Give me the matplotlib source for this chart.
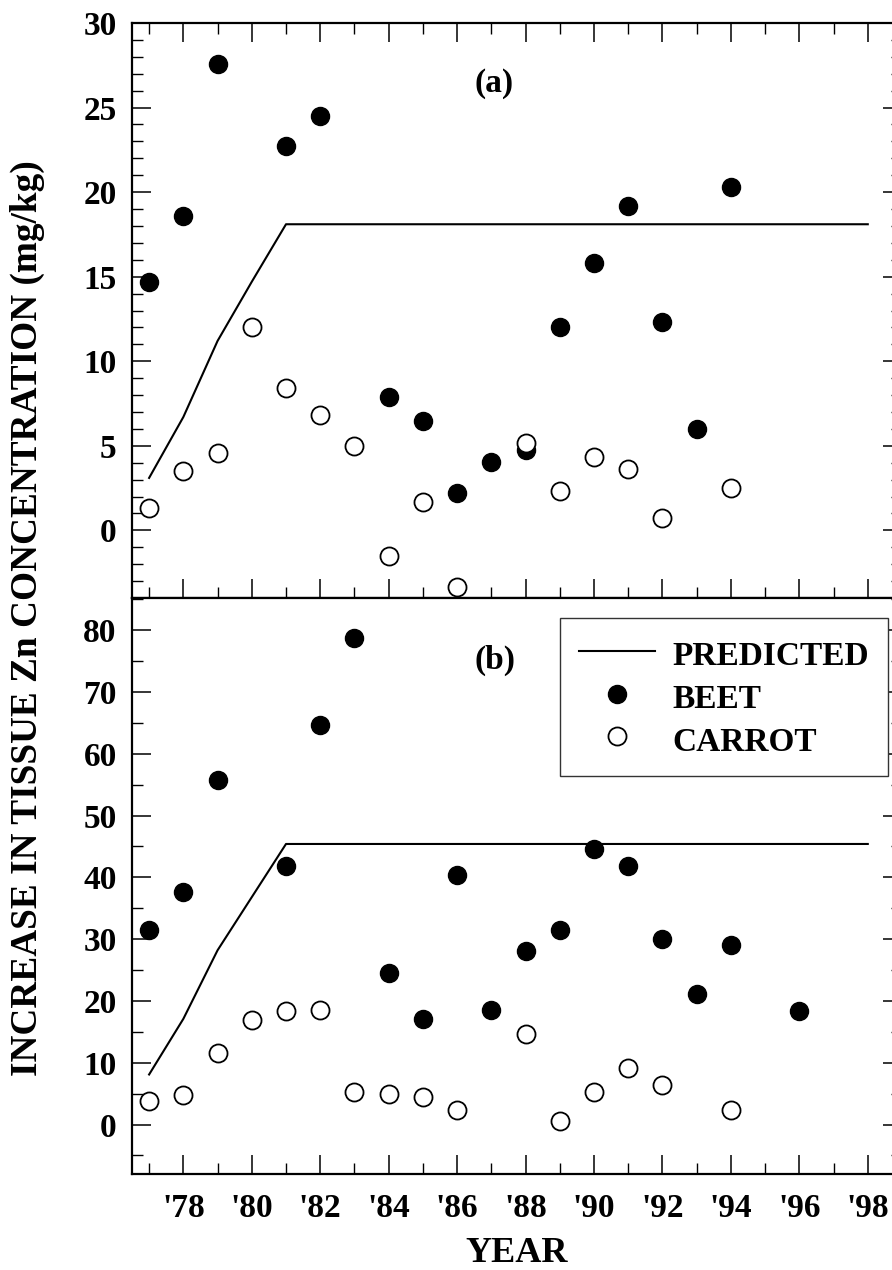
import numpy as np
import matplotlib
matplotlib.use("Agg")
import matplotlib.pyplot as plt
from matplotlib.ticker import MultipleLocator, FixedLocator

plt.rcParams['font.family'] = ['Liberation Serif', 'DejaVu Serif']
plt.rcParams['font.weight'] = 'bold'

# ---- data ----
pred_years = [1977, 1978, 1979, 1980, 1981, 1998]
pred_a = [3.1, 6.7, 11.2, 14.7, 18.1, 18.1]
pred_b = [8.1, 17.1, 28.2, 36.8, 45.4, 45.4]

beet_years_a = [1977, 1978, 1979, 1981, 1982, 1984, 1985, 1986, 1987, 1988,
                1989, 1990, 1991, 1992, 1993, 1994]
beet_a = [14.7, 18.6, 27.6, 22.7, 24.5, 7.9, 6.45, 2.2, 4.05, 4.75,
          12.05, 15.8, 19.2, 12.3, 6.0, 20.3]

carrot_years_a = [1977, 1978, 1979, 1980, 1981, 1982, 1983, 1984, 1985, 1986,
                  1988, 1989, 1990, 1991, 1992, 1994]
carrot_a = [1.3, 3.5, 4.6, 12.0, 8.4, 6.85, 5.0, -1.5, 1.7, -3.35,
            5.15, 2.35, 4.35, 3.65, 0.75, 2.5]

beet_years_b = [1977, 1978, 1979, 1981, 1982, 1983, 1984, 1985, 1986, 1987,
                1988, 1989, 1990, 1991, 1992, 1993, 1994, 1996]
beet_b = [31.4, 37.6, 55.7, 41.8, 64.7, 78.8, 24.6, 17.1, 40.3, 18.6,
          28.1, 31.5, 44.6, 41.9, 30.1, 21.1, 29.1, 18.3]

carrot_years_b = [1977, 1978, 1979, 1980, 1981, 1982, 1983, 1984, 1985, 1986,
                  1988, 1989, 1990, 1991, 1992, 1994]
carrot_b = [3.8, 4.8, 11.55, 16.95, 18.35, 18.6, 5.2, 5.0, 4.4, 2.3,
            14.7, 0.55, 5.2, 9.2, 6.35, 2.3]

year_ticks = list(range(1978, 1999, 2))
year_labels = ["'%02d" % (y % 100) for y in year_ticks]

W, H = 892, 1270
fig = plt.figure(figsize=(W / 100, H / 100), dpi=100)

def frac(x0, y0, x1, y1):
    return [x0 / W, 1 - y1 / H, (x1 - x0) / W, (y1 - y0) / H]

ax_a = fig.add_axes(frac(132, 23, 902, 598))
ax_b = fig.add_axes(frac(132, 598, 902, 1174))

tick_fs = 24
ms = 13

for ax in (ax_a, ax_b):
    for s in ax.spines.values():
        s.set_linewidth(1.6)
    ax.set_xlim(1976.5, 1999)
    ax.xaxis.set_major_locator(FixedLocator(year_ticks))
    ax.xaxis.set_minor_locator(MultipleLocator(1))
    ax.tick_params(which='major', direction='in', length=14, width=1.1,
                   labelsize=tick_fs, pad=11)
    ax.tick_params(which='minor', direction='in', length=8, width=1.0)
    ax.tick_params(axis='y', which='both', left=True, right=True)

# panel (a)
ax_a.plot(pred_years, pred_a, color='black', lw=1.5)
ax_a.plot(beet_years_a, beet_a, 'o', color='black', ms=ms)
ax_a.plot(carrot_years_a, carrot_a, 'o', mfc='white', mec='black', mew=1.3, ms=ms)
ax_a.set_ylim(-4, 30)
ax_a.yaxis.set_major_locator(MultipleLocator(5))
ax_a.yaxis.set_minor_locator(MultipleLocator(1))
ax_a.tick_params(axis='x', which='both', top=True, bottom=True, labelbottom=False)
ax_a.text(1987.07, 26.45, '(a)', fontsize=tick_fs, fontweight='bold',
          ha='center', va='center')

# panel (b)
l1, = ax_b.plot(pred_years, pred_b, color='black', lw=1.5, label='PREDICTED')
l2, = ax_b.plot(beet_years_b, beet_b, 'o', color='black', ms=ms, label='BEET')
l3, = ax_b.plot(carrot_years_b, carrot_b, 'o', mfc='white', mec='black', mew=1.3,
                ms=ms, label='CARROT')
ax_b.set_ylim(-8, 85.2)
ax_b.yaxis.set_major_locator(MultipleLocator(10))
ax_b.yaxis.set_minor_locator(MultipleLocator(5))
ax_b.tick_params(axis='x', which='both', top=False, bottom=True)
ax_b.set_xticklabels(year_labels)
ax_b.tick_params(axis='x', which='major', pad=14)
ax_b.text(1987.1, 75.1, '(b)', fontsize=tick_fs, fontweight='bold',
          ha='center', va='center')

leg = ax_b.legend(handles=[l1, l2, l3], loc='upper left',
                  bbox_to_anchor=(0.556, 0.965), fontsize=24, frameon=True,
                  fancybox=False, framealpha=1, edgecolor='#333333',
                  handlelength=2.28, handleheight=1.23, handletextpad=0.54,
                  borderpad=0.56, labelspacing=0.21, borderaxespad=0)
leg.get_frame().set_linewidth(1.0)

fig.text(517 / W, 1 - 1253 / H, 'YEAR', fontsize=26, fontweight='bold',
         ha='center', va='center')

fig.text(27 / W, 1 - 618 / H, 'INCREASE IN TISSUE Zn CONCENTRATION (mg/kg)',
         rotation=90, fontsize=26.8, fontweight='bold', ha='center', va='center')

fig.savefig('out.png', dpi=100)
